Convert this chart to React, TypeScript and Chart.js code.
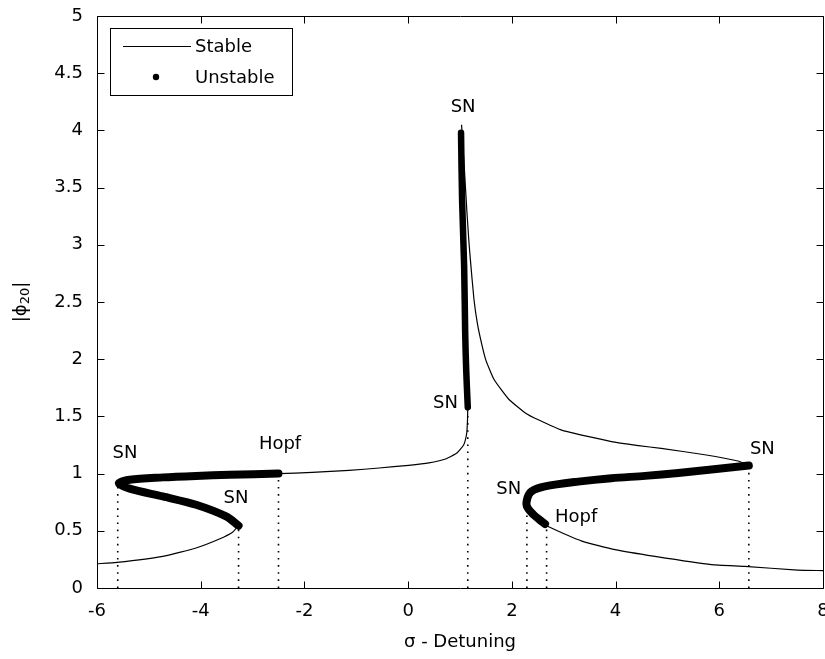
import { useEffect, useRef } from "react";
import { Chart, registerables } from "chart.js";

Chart.register(...registerables);

// ---- axis ticks ----
const xTicks = [-6, -4, -2, 0, 2, 4, 6, 8];
const yTicks = [0, 0.5, 1, 1.5, 2, 2.5, 3, 3.5, 4, 4.5, 5];

// ---- stable branches (thin line) ----
const stableLeftX = [-6, -5.62, -4.73, -4.09, -3.64, -3.38, -3.27];
const stableLeftY = [0.212, 0.224, 0.277, 0.35, 0.428, 0.49, 0.545];

const stableMidX = [-2.5, -1.85, -1.14, -0.56, 0.01, 0.4, 0.72, 0.94, 1.07, 1.13, 1.145, 1.15];
const stableMidY = [1.0, 1.01, 1.028, 1.049, 1.072, 1.093, 1.128, 1.18, 1.25, 1.355, 1.47, 1.58];

const stableUpperX = [1.03, 1.08, 1.13, 1.17, 1.2, 1.27, 1.34, 1.42, 1.5, 1.66, 1.94, 2.26, 2.51, 2.96, 3.92, 4.44, 4.88, 5.72, 6.36, 6.57];
const stableUpperY = [4.05, 3.7, 3.31, 3.04, 2.87, 2.52, 2.3, 2.13, 1.99, 1.82, 1.65, 1.53, 1.47, 1.38, 1.28, 1.245, 1.22, 1.165, 1.11, 1.07];

const stableLowerX = [2.64, 2.71, 3.35, 3.99, 4.76, 5.85, 6.49, 7.51, 8];
const stableLowerY = [0.56, 0.535, 0.41, 0.335, 0.276, 0.204, 0.189, 0.157, 0.152];

// ---- unstable branches (thick dots) ----
const unstableLeftX = [-3.27, -3.51, -4.09, -4.73, -5.37, -5.58, -5.37, -4.73, -4.09, -3.45, -2.5];
const unstableLeftY = [0.545, 0.626, 0.728, 0.8, 0.868, 0.915, 0.947, 0.967, 0.98, 0.99, 1.0];

const unstableMidX = [1.15, 1.12, 1.1, 1.08, 1.04, 1.02];
const unstableMidY = [1.58, 1.9, 2.23, 2.81, 3.4, 3.98];

const unstableRightX = [6.57, 5.85, 5.21, 4.57, 3.92, 3.28, 2.64, 2.38, 2.3, 2.29, 2.42, 2.58, 2.64];
const unstableRightY = [1.07, 1.035, 1.005, 0.98, 0.96, 0.93, 0.888, 0.845, 0.787, 0.713, 0.64, 0.58, 0.56];

// ---- bifurcation markers (dotted verticals) ----
const bifX = [-5.6, -3.27, -2.5, 1.15, 2.29, 2.67, 6.57];
const bifY = [0.915, 0.545, 1.0, 1.58, 0.787, 0.55, 1.07];

// ---- annotation labels ----
const labelText = ["SN", "SN", "Hopf", "SN", "SN", "SN", "SN", "Hopf"];
const labelX = [-5.46, -3.32, -2.47, 1.06, 0.72, 6.83, 1.94, 3.24];
const labelY = [1.18, 0.78, 1.26, 4.2, 1.61, 1.21, 0.866, 0.62];

const FONT = '"DejaVu Sans", "Liberation Sans", Arial, sans-serif';

function pts(xs: number[], ys: number[]) {
  return xs.map((x, i) => ({ x, y: ys[i] }));
}

const decorPlugin = {
  id: "matlabDecor",
  afterDatasetsDraw(chart: any) {
    const { ctx, scales } = chart;
    const xs = scales.x;
    const ys = scales.y;
    ctx.save();
    ctx.fillStyle = "#000";
    ctx.font = `18px ${FONT}`;
    ctx.textAlign = "center";
    ctx.textBaseline = "middle";
    labelText.forEach((t, i) => {
      ctx.fillText(t, xs.getPixelForValue(labelX[i]), ys.getPixelForValue(labelY[i]));
    });
    ctx.restore();
  },
  afterDraw(chart: any) {
    const { ctx, chartArea: a, scales } = chart;
    const xs = scales.x;
    const ys = scales.y;
    ctx.save();
    ctx.strokeStyle = "#000";
    ctx.lineWidth = 1;
    const L = Math.round(a.left) + 0.5;
    const R = Math.round(a.right) + 0.5;
    const T = Math.round(a.top) + 0.5;
    const B = Math.round(a.bottom) + 0.5;
    ctx.beginPath();
    ctx.rect(L, T, R - L, B - T);
    const tl = 7;
    xTicks.forEach((v) => {
      const p = Math.round(xs.getPixelForValue(v)) + 0.5;
      ctx.moveTo(p, B);
      ctx.lineTo(p, B - tl);
      ctx.moveTo(p, T);
      ctx.lineTo(p, T + tl);
    });
    yTicks.forEach((v) => {
      const p = Math.round(ys.getPixelForValue(v)) + 0.5;
      ctx.moveTo(L, p);
      ctx.lineTo(L + tl, p);
      ctx.moveTo(R, p);
      ctx.lineTo(R - tl, p);
    });
    ctx.stroke();

    // legend
    ctx.fillStyle = "#fff";
    ctx.fillRect(110.5, 28.5, 182, 67);
    ctx.strokeRect(110.5, 28.5, 182, 67);
    ctx.beginPath();
    ctx.moveTo(123, 46.5);
    ctx.lineTo(191, 46.5);
    ctx.lineWidth = 1.2;
    ctx.stroke();
    ctx.fillStyle = "#000";
    ctx.beginPath();
    ctx.arc(156, 77, 3.2, 0, Math.PI * 2);
    ctx.fill();
    ctx.font = `18px ${FONT}`;
    ctx.textAlign = "left";
    ctx.textBaseline = "middle";
    ctx.fillText("Stable", 195, 47);
    ctx.fillText("Unstable", 195, 78);

    // y title with subscript
    ctx.translate(21, (a.top + a.bottom) / 2);
    ctx.rotate(-Math.PI / 2);
    const main = `18px ${FONT}`;
    const sub = `13px ${FONT}`;
    ctx.font = main;
    const w1 = ctx.measureText("|ϕ").width;
    const w3 = ctx.measureText("|").width;
    ctx.font = sub;
    const w2 = ctx.measureText("20").width;
    const x0 = -(w1 + w2 + w3) / 2;
    ctx.font = main;
    ctx.fillText("|ϕ", x0, 0);
    ctx.font = sub;
    ctx.fillText("20", x0 + w1, 5);
    ctx.font = main;
    ctx.fillText("|", x0 + w1 + w2, 0);
    ctx.restore();
  },
};

export default function App() {
  const ref = useRef<HTMLCanvasElement>(null);
  useEffect(() => {
    const stableStyle = {
      showLine: true,
      borderColor: "#000",
      borderWidth: 1.2,
      pointRadius: 0,
      tension: 0.15,
      fill: false,
    };
    const unstableStyle = {
      showLine: true,
      borderColor: "#000",
      borderWidth: 8,
      pointRadius: 0,
      tension: 0.3,
      fill: false,
      borderCapStyle: "round",
      borderJoinStyle: "round",
    };
    const dotted = bifX.map((x, i) => ({
      data: [
        { x, y: 0 },
        { x, y: bifY[i] },
      ],
      showLine: true,
      borderColor: "#000",
      borderWidth: 1.6,
      borderDash: [1.6, 5.5],
      pointRadius: 0,
      fill: false,
    }));
    const chart = new Chart(ref.current as HTMLCanvasElement, {
      type: "scatter",
      data: {
        datasets: [
          ...dotted,
          { ...stableStyle, data: pts(stableLeftX, stableLeftY) },
          { ...stableStyle, data: pts(stableMidX, stableMidY) },
          { ...stableStyle, data: pts(stableUpperX, stableUpperY) },
          { ...stableStyle, data: pts(stableLowerX, stableLowerY) },
          { ...unstableStyle, data: pts(unstableLeftX, unstableLeftY) },
          { ...unstableStyle, borderWidth: 6.5, data: pts(unstableMidX, unstableMidY) },
          { ...unstableStyle, data: pts(unstableRightX, unstableRightY) },
        ] as any,
      },
      options: {
        animation: false,
        responsive: false,
        devicePixelRatio: 1,
        layout: { padding: { top: 16, right: 2, bottom: 0, left: 0 } },
        plugins: { legend: { display: false }, tooltip: { enabled: false } },
        scales: {
          x: {
            type: "linear",
            min: -6,
            max: 8,
            afterBuildTicks: (s: any) => {
              s.ticks = xTicks.map((v) => ({ value: v }));
            },
            ticks: {
              color: "#000",
              font: { family: FONT, size: 18 },
              padding: 13,
              maxRotation: 0,
              autoSkip: false,
              callback: (v: any) => String(v),
            },
            grid: { display: false, drawTicks: false },
            border: { display: false },
            title: {
              display: true,
              text: "σ - Detuning",
              color: "#000",
              font: { family: FONT, size: 18 },
              padding: { top: 0, bottom: 6 },
            },
            afterFit: (s: any) => {
              s.height = 71;
              s.paddingLeft = 0;
              s.paddingRight = 0;
            },
          } as any,
          y: {
            type: "linear",
            min: 0,
            max: 5,
            afterBuildTicks: (s: any) => {
              s.ticks = yTicks.map((v) => ({ value: v }));
            },
            ticks: {
              color: "#000",
              font: { family: FONT, size: 18 },
              padding: 14,
              autoSkip: false,
              callback: (v: any) => String(v),
            },
            grid: { display: false, drawTicks: false },
            border: { display: false },
            afterFit: (s: any) => {
              s.width = 97;
              s.paddingTop = 0;
              s.paddingBottom = 0;
            },
          } as any,
        },
      },
      plugins: [decorPlugin],
    });
    return () => chart.destroy();
  }, []);
  return (
    <div style={{ position: "absolute", left: 0, top: 0, width: 825, height: 659, background: "#fff" }}>
      <canvas ref={ref} width={825} height={659} style={{ display: "block" }} />
    </div>
  );
}
